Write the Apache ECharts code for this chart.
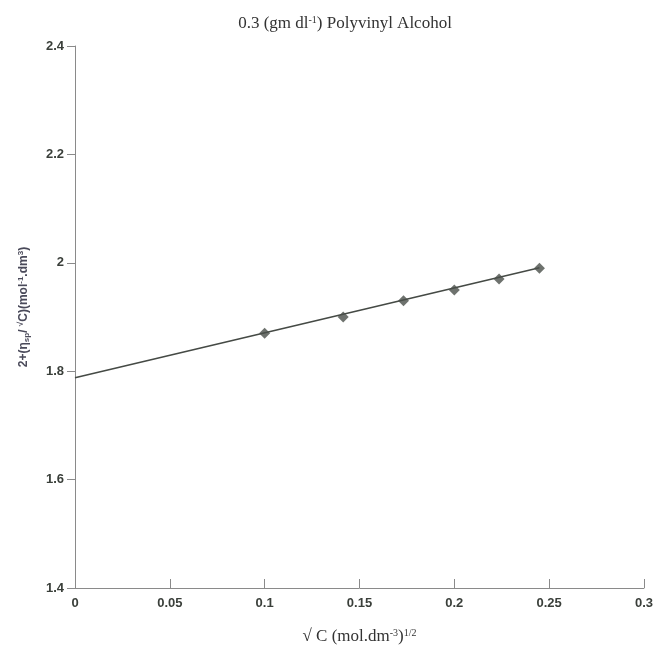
<!DOCTYPE html>
<html>
<head>
<meta charset="utf-8">
<script src="https://cdn.jsdelivr.net/npm/echarts@6/dist/echarts.min.js"></script>
<style>html,body{margin:0;padding:0;background:#fff;}#chart{width:656px;height:652px;}</style>
</head>
<body>
<div id="chart"></div>
<script>
// Data
const sqrtC = [0.1, 0.1414, 0.1732, 0.2, 0.2236, 0.2449];
const reducedVisc = [1.87, 1.90, 1.93, 1.95, 1.97, 1.99];
const fitX = [0, 0.2449];
const fitY = [1.788, 1.991];
const xTicks = [0, 0.05, 0.1, 0.15, 0.2, 0.25, 0.3];
const yTicks = [1.4, 1.6, 1.8, 2, 2.2, 2.4];

const chart = echarts.init(document.getElementById('chart'), null, {renderer: 'canvas'});
const axisCol = '#8a8a8a';
const labelCol = '#3a3f3a';
const option = {
  animation: false,
  backgroundColor: '#ffffff',
  title: {
    text: '0.3 (gm dl{sup|-1}) Polyvinyl Alcohol',
    left: 340, top: 10, textAlign: 'center',
    textStyle: {
      fontFamily: 'Liberation Serif', fontSize: 17, fontWeight: 'normal', color: '#333',
      rich: { sup: { fontFamily: 'Liberation Serif', fontSize: 10, color: '#333', verticalAlign: 'top', padding: [0,0,8,0] } }
    }
  },
  grid: { left: 75, right: 11, top: 46, bottom: 64, containLabel: false },
  xAxis: {
    type: 'value', min: 0, max: 0.3, interval: 0.05,
    name: '\u221A C (mol.dm{sup|-3}){sup|1/2}',
    nameLocation: 'middle', nameGap: 40,
    nameTextStyle: {
      fontFamily: 'Liberation Serif', fontSize: 17, color: '#333',
      rich: { sup: { fontFamily: 'Liberation Serif', fontSize: 10, color: '#333', verticalAlign: 'top', padding: [0,0,8,0] } }
    },
    axisLine: { show: true, onZero: false, lineStyle: { color: axisCol, width: 1 } },
    axisTick: { show: true, inside: true, length: 9, lineStyle: { color: axisCol } },
    axisLabel: {
      margin: 9, fontFamily: 'Liberation Sans', fontWeight: 'bold', fontSize: 13, color: labelCol,
      formatter: v => { const t = xTicks.find(k => Math.abs(k - v) < 1e-9); return t === undefined ? '' : String(t); }
    },
    splitLine: { show: false }
  },
  yAxis: {
    type: 'value', min: 1.4, max: 2.4, interval: 0.2,
    name: '2+(\u03B7{sub|sp}/ {sup|\u221A}C)(mol{sup|-1}.dm{sup|3})',
    nameLocation: 'middle', nameGap: 44, nameRotate: 90,
    nameTextStyle: {
      fontFamily: 'Liberation Sans', fontWeight: 'bold', fontSize: 12, color: '#4a4a5a',
      padding: [0, 0, 0, 20],
      rich: {
        sub: { fontFamily: 'Liberation Sans', fontWeight: 'bold', fontSize: 8, color: '#4a4a5a', verticalAlign: 'bottom', padding: [6,0,0,0] },
        sup: { fontFamily: 'Liberation Sans', fontWeight: 'bold', fontSize: 8, color: '#4a4a5a', verticalAlign: 'top', padding: [0,0,6,0] }
      }
    },
    axisLine: { show: true, onZero: false, lineStyle: { color: axisCol, width: 1 } },
    axisTick: { show: true, inside: false, length: 8, lineStyle: { color: axisCol } },
    axisLabel: {
      margin: 11, fontFamily: 'Liberation Sans', fontWeight: 'bold', fontSize: 13, color: labelCol,
      formatter: v => { const t = yTicks.find(k => Math.abs(k - v) < 1e-9); return t === undefined ? '' : String(t); }
    },
    splitLine: { show: false }
  },
  series: [
    {
      type: 'line',
      data: fitX.map((x, i) => [x, fitY[i]]),
      showSymbol: false, symbol: 'none',
      lineStyle: { color: '#454a45', width: 1.6 },
      z: 2
    },
    {
      type: 'scatter',
      data: sqrtC.map((x, i) => [x, reducedVisc[i]]),
      symbol: 'diamond', symbolSize: 11,
      itemStyle: { color: '#4a4f4a' },
      z: 3
    }
  ]
};
chart.setOption(option);
</script>
</body>
</html>
